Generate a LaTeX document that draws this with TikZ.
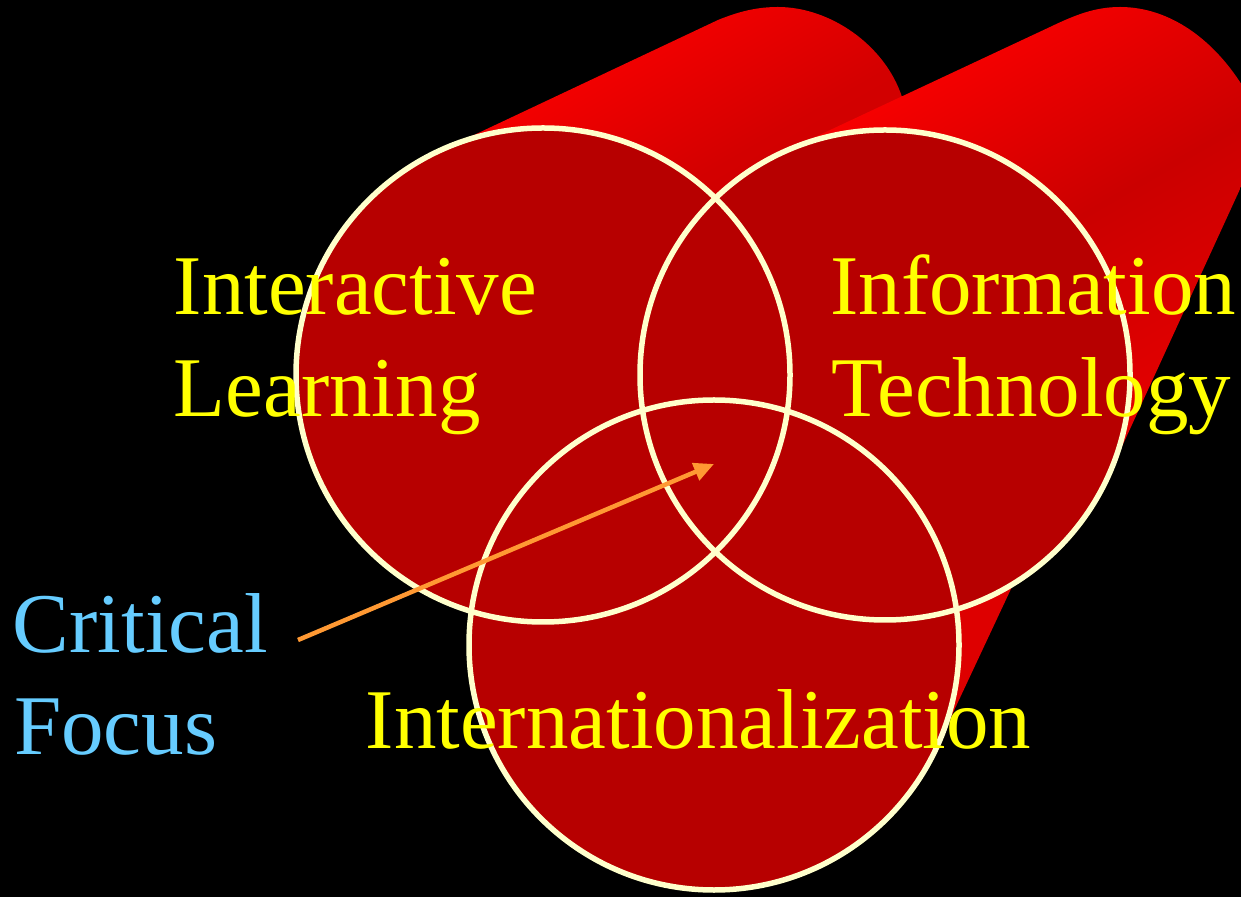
\documentclass[tikz,border=0pt]{standalone}
\usepackage{fontspec}
\setmainfont{Liberation Serif}
\usetikzlibrary{arrows.meta}
\definecolor{facered}{RGB}{183,0,0}
\definecolor{brightred}{RGB}{255,0,0}
\definecolor{darkred}{RGB}{203,0,0}
\definecolor{midred}{RGB}{232,0,0}
\definecolor{wedgered}{RGB}{222,0,0}
\definecolor{cream}{RGB}{255,255,204}
\definecolor{labelyellow}{RGB}{255,255,0}
\definecolor{labelcyan}{RGB}{102,204,255}
\definecolor{arroworange}{RGB}{255,153,51}
\begin{document}
\begin{tikzpicture}[x=1pt,y=1pt,
  face/.style={fill=facered},
  rim/.style={draw=cream,line width=5.5pt},
  lbl/.style={anchor=base west,inner sep=0pt,font=\fontsize{85}{100}\selectfont},
  venn/.style={lbl,text=labelyellow},
  crit/.style={lbl,text=labelcyan},
  pointer/.style={draw=arroworange,line width=4.5pt,-{Triangle[length=20pt,width=18pt]}}]
\fill[black] (0,0) rectangle (1241,897);
\useasboundingbox (0,0) rectangle (1241,897);
\coordinate (cl) at (543,522);
\coordinate (cr) at (885,522);
\coordinate (cb) at (714,252);
\begin{scope}
\clip (0,0) rectangle (1241,897);
% left cylinder body
\shade[top color=brightred, bottom color=darkred, middle color=darkred!85!brightred, shading angle=30]
  (cl) -- (438,745) -- (718,877) .. controls (740,886) and (758,890) .. (778,890)
  .. controls (830,890) and (885,852) .. (902,800)
  .. controls (912,767) and (918,727) .. (920,687) -- cycle;
% right cylinder body
\shade[top color=brightred, bottom color=midred, middle color=darkred, shading angle=30]
  (cr) -- (781,744) -- (1050,870) .. controls (1075,882) and (1095,890) .. (1120,890)
  .. controls (1170,890) and (1215,857) .. (1245,807) -- (1290,817) -- (1108,420) -- cycle;
% bottom cylinder body
\fill[wedgered] (cb) -- (cr) -- (1062,417) -- (936,148) -- cycle;
\end{scope}
% front faces
\fill[face] (cl) circle[radius=247];
\fill[face] (cr) circle[radius=245];
\fill[face] (cb) circle[radius=245];
\draw[rim] (cl) circle[radius=247];
\draw[rim] (cr) circle[radius=245];
\draw[rim] (cb) circle[radius=245];
% labels
\node[venn] (il1) at (173.5,582) {Interactive};
\node[venn] (il2) at (173.5,480) {Learning};
\node[venn] (it1) at (830,582) {Information};
\node[venn] (it2) at (831,480) {Technology};
\node[venn] (in1) at (365.5,149) {Internationalization};
\node[crit] (cf1) at (12.6,244) {Critical};
\node[crit] (cf2) at (14,143) {Focus};
\coordinate (arrowstart) at (298,257);
\coordinate (focus) at (714,433);
\draw[pointer] (arrowstart) -- (focus);
\end{tikzpicture}
\end{document}
